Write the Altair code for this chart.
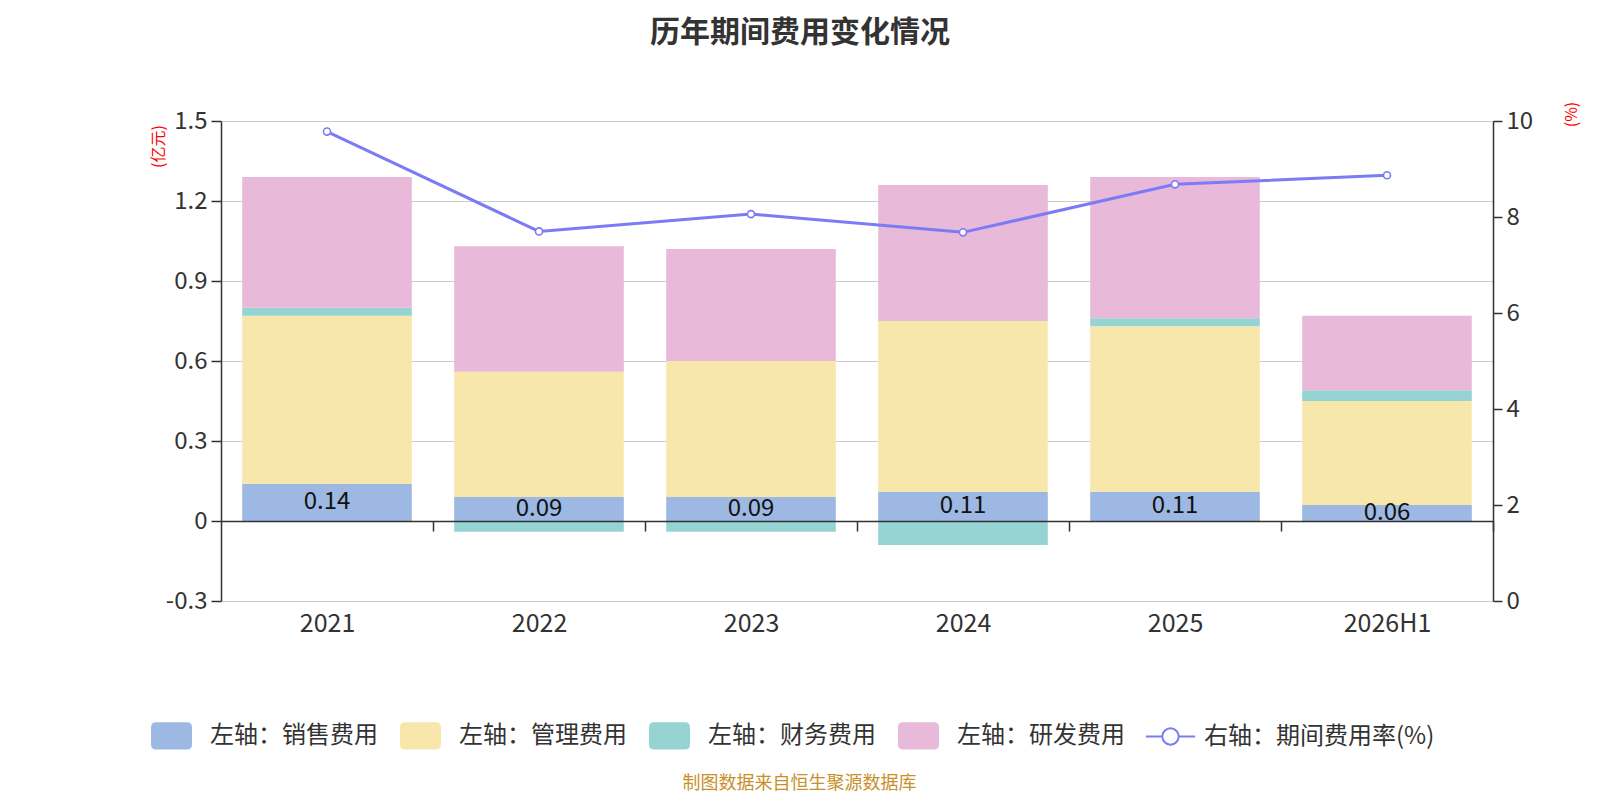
import altair as alt
import pandas as pd

# ---------------- data ----------------
years = ["2021", "2022", "2023", "2024", "2025", "2026H1"]
sales = [0.14, 0.09, 0.09, 0.11, 0.11, 0.06]
admin = [0.63, 0.47, 0.51, 0.64, 0.62, 0.39]
finance = [0.03, -0.04, -0.04, -0.09, 0.03, 0.04]
rnd = [0.49, 0.47, 0.42, 0.51, 0.53, 0.28]
rate = [9.78, 7.70, 8.06, 7.68, 8.68, 8.87]

series_names = ["左轴：销售费用", "左轴：管理费用", "左轴：财务费用", "左轴：研发费用"]
line_name = "右轴：期间费用率(%)"
bar_colors = ["#9DB8E2", "#F8E7AA", "#96D3D3", "#E8B9D9"]
line_color = "#7B7BF5"
left_ticks = [-0.3, 0, 0.3, 0.6, 0.9, 1.2, 1.5]
right_ticks = [0, 2, 4, 6, 8, 10]
title_text = "历年期间费用变化情况"
footer_text = "制图数据来自恒生聚源数据库"

rows = []
for i, y in enumerate(years):
    for k, vals in enumerate([sales, admin, finance, rnd]):
        rows.append({"year": y, "series": series_names[k], "ord": k, "value": vals[i]})
bar_df = pd.DataFrame(rows)
label_df = pd.DataFrame({"year": years, "sales": sales})
rate_df = pd.DataFrame({"year": years, "rate": rate, "series": [line_name] * len(years)})

FONT = "Noto Sans CJK SC"
W, H = 1272, 480
STEP = W / len(years)
rr_path = ("M-0.75,-0.67H0.75Q1,-0.67,1,-0.42V0.42Q1,0.67,0.75,0.67H-0.75"
           "Q-1,0.67,-1,0.42V-0.42Q-1,-0.67,-0.75,-0.67Z")
line_path = ("M-1.2,0H-0.4M0.4,0H1.2M-0.4,0A0.4,0.4,0,1,0,0.4,0"
             "A0.4,0.4,0,1,0,-0.4,0Z")

x_enc = alt.X(
    "year:N", sort=years,
    scale=alt.Scale(paddingInner=0.2, paddingOuter=0.1),
    axis=alt.Axis(
        title=footer_text, offset=-80, labelAngle=0, labelFontSize=25,
        labelColor="#333", labelPadding=80, tickOffset=STEP / 2,
        labelOffset=-STEP / 2, tickSize=10,
        tickColor="#333", tickWidth=1.5, domainColor="#333", domainWidth=1.5,
        zindex=1, titleX=578, titleY=262, titleColor="#C8902A", titleFontSize=18,
        titleFontWeight="normal", titleBaseline="middle", titleAlign="center",
        labelFont=FONT, titleFont=FONT,
    ),
)

left_scale = alt.Scale(domain=[-0.3, 1.5], nice=False, zero=False)
left_axis = alt.Axis(
    orient="left", values=left_ticks,
    labelExpr="datum.value == 0 ? '0' : (datum.value < 0 ? '-' + format(-datum.value, '.1f') : format(datum.value, '.1f'))",
    titleColor="red", titleFontSize=16, titleFontWeight="normal", titleAngle=270,
    titleX=-63, titleY=25, titleAlign="center", titleBaseline="middle",
    grid=True, gridColor="#cccccc", gridWidth=1.2, tickSize=10, tickColor="#333",
    tickWidth=1.5, domainColor="#333", domainWidth=1.5, labelFontSize=24,
    labelColor="#333", labelPadding=4, labelFont=FONT, titleFont=FONT,
)

right_scale = alt.Scale(domain=[0, 10], nice=False, zero=True)
right_axis = alt.Axis(
    orient="right", values=right_ticks, format="d", grid=False,
    titleColor="red", titleFontSize=16, titleFontWeight="normal", titleAngle=270,
    titleX=78, titleY=-7, titleAlign="center", titleBaseline="middle",
    tickSize=9, tickColor="#333", tickWidth=1.5, domainColor="#333", domainWidth=1.5,
    labelFontSize=24, labelColor="#333", labelPadding=4, labelFont=FONT, titleFont=FONT,
)

bars = alt.Chart(bar_df).mark_bar().encode(
    x=x_enc,
    y=alt.Y("value:Q", stack="zero", scale=left_scale, axis=left_axis, title="(亿元)"),
    color=alt.Color(
        "series:N",
        scale=alt.Scale(domain=series_names, range=bar_colors),
        legend=alt.Legend(
            title=None, orient="none", legendX=-70, legendY=594, direction="horizontal",
            columns=4, symbolType=rr_path, symbolSize=1681, symbolStrokeWidth=0,
            symbolOpacity=1, labelFontSize=24, labelColor="#333", labelOffset=18,
            columnPadding=22, labelLimit=400, labelFont=FONT,
        ),
    ),
    order=alt.Order("ord:Q", sort="ascending"),
)

labels = alt.Chart(label_df).transform_calculate(
    mid="datum.sales / 2"
).mark_text(fontSize=24, color="#111", baseline="middle", font=FONT).encode(
    x=alt.X("year:N", sort=years),
    y=alt.Y("mid:Q", scale=left_scale, axis=left_axis, title="(亿元)"),
    text=alt.Text("sales:Q", format=".2f"),
)

stroke_enc = alt.Stroke(
    "series:N",
    scale=alt.Scale(domain=[line_name], range=[line_color]),
    legend=alt.Legend(
        title=None, orient="none", legendX=928, legendY=594, symbolType=line_path,
        symbolSize=1681, symbolStrokeWidth=2, symbolFillColor="white",
        labelFontSize=24, labelColor="#333", labelOffset=12, labelLimit=400,
        labelFont=FONT,
    ),
)

line = alt.Chart(rate_df).mark_line(strokeWidth=3).encode(
    x=alt.X("year:N", sort=years),
    y=alt.Y("rate:Q", scale=right_scale, axis=right_axis, title="(%)"),
    stroke=stroke_enc,
)
points = alt.Chart(rate_df).mark_point(
    filled=True, fill="white", size=50, strokeWidth=1.6, opacity=1
).encode(
    x=alt.X("year:N", sort=years),
    y=alt.Y("rate:Q", scale=right_scale, axis=right_axis, title="(%)"),
    stroke=stroke_enc,
)

left = alt.layer(bars, labels)
right = alt.layer(line, points)

chart = alt.layer(left, right).resolve_scale(y="independent").properties(
    width=W,
    height=H,
    autosize=alt.AutoSizeParams(type="none"),
    padding={"left": 213, "top": 113, "right": 95, "bottom": 191},
    title=alt.TitleParams(
        title_text, fontSize=30, fontWeight="bold", color="#333", anchor="middle",
        dx=-57, offset=38, baseline="middle", frame="group", font=FONT,
    ),
).configure(font=FONT).configure_view(stroke=None)

chart.save("out.html", embed_options={"renderer": "svg", "actions": False})
